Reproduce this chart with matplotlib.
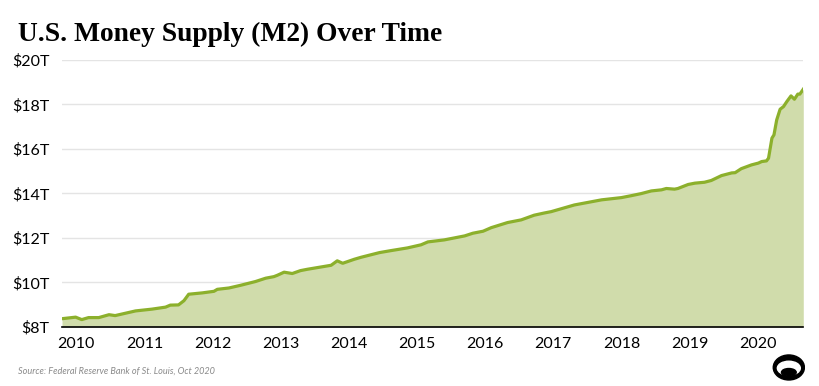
import numpy as np
import matplotlib.pyplot as plt
from matplotlib.patches import Ellipse

# M2 money supply, trillions of USD (decimal years)
years = [2009.79, 2009.99, 2010.08, 2010.18, 2010.33, 2010.48, 2010.57, 2010.87,
         2011.11, 2011.31, 2011.38, 2011.50, 2011.58, 2011.65, 2011.85, 2012.02,
         2012.07, 2012.24, 2012.41, 2012.63, 2012.78, 2012.90, 2012.95, 2013.05,
         2013.17, 2013.29, 2013.39, 2013.74, 2013.83, 2013.91, 2014.08, 2014.18,
         2014.45, 2014.62, 2014.86, 2015.06, 2015.16, 2015.40, 2015.70, 2015.82,
         2015.97, 2016.09, 2016.33, 2016.53, 2016.72, 2016.87, 2016.97, 2017.31,
         2017.71, 2018.00, 2018.15, 2018.29, 2018.44, 2018.59, 2018.66, 2018.78,
         2018.83, 2018.98, 2019.08, 2019.22, 2019.32, 2019.47, 2019.62, 2019.67,
         2019.76, 2019.91, 2020.01, 2020.06, 2020.13, 2020.16, 2020.21, 2020.24,
         2020.28, 2020.33, 2020.38, 2020.43, 2020.49, 2020.54, 2020.59, 2020.62,
         2020.67]
m2 = [8.37, 8.44, 8.33, 8.42, 8.42, 8.55, 8.51, 8.72,
      8.80, 8.89, 8.98, 8.99, 9.18, 9.47, 9.53, 9.60,
      9.69, 9.75, 9.87, 10.04, 10.19, 10.26, 10.32, 10.46,
      10.40, 10.53, 10.59, 10.77, 10.97, 10.86, 11.04, 11.13,
      11.34, 11.43, 11.55, 11.69, 11.82, 11.91, 12.09, 12.21,
      12.30, 12.46, 12.69, 12.81, 13.02, 13.12, 13.18, 13.48,
      13.71, 13.81, 13.90, 13.99, 14.11, 14.16, 14.22, 14.19,
      14.22, 14.40, 14.46, 14.50, 14.58, 14.80, 14.92, 14.93,
      15.11, 15.28, 15.36, 15.43, 15.46, 15.58, 16.48, 16.63,
      17.30, 17.78, 17.90, 18.13, 18.38, 18.23, 18.46, 18.46,
      18.68]

y_ticks = [8, 10, 12, 14, 16, 18, 20]
y_labels = ['$8T', '$10T', '$12T', '$14T', '$16T', '$18T', '$20T']
x_ticks = list(range(2010, 2021))

line_color = '#8cb02c'
fill_color = '#d0dcab'

plt.rcParams['font.family'] = 'Lato'

fig = plt.figure(figsize=(8.2, 3.86), dpi=100)
ax = fig.add_axes([0.0756, 0.153, 0.904, 0.692])

ax.fill_between(years, m2, 8, color=fill_color, linewidth=0, zorder=2)
ax.plot(years, m2, color=line_color, linewidth=2.3, zorder=3, solid_joinstyle='round')

ax.set_xlim(2009.79, 2020.67)
ax.set_ylim(8, 20)
ax.set_yticks(y_ticks)
ax.set_yticklabels(y_labels)
ax.set_xticks(x_ticks)
ax.set_xticklabels([str(y) for y in x_ticks])
ax.tick_params(axis='both', length=0, labelsize=11.5, colors='black')
ax.tick_params(axis='y', pad=9)
ax.tick_params(axis='x', pad=7)

ax.grid(axis='y', color='#e4e4e4', linewidth=1, zorder=1)
for s in ['top', 'right', 'left']:
    ax.spines[s].set_visible(False)
ax.spines['bottom'].set_color('black')
ax.spines['bottom'].set_linewidth(1.2)
ax.spines['bottom'].set_zorder(4)

fig.text(0.022, 0.893, 'U.S. Money Supply (M2) Over Time', family='Liberation Serif',
         fontweight='bold', fontsize=19.8, ha='left', va='baseline')
fig.text(0.022, 0.033, 'Source: Federal Reserve Bank of St. Louis, Oct 2020',
         fontsize=6.6, style='italic', color='#8a8a8a', ha='left', va='baseline')

# small logo, bottom right
lax = fig.add_axes([0.942, 0.012, 0.04, 0.072])
lax.set_xlim(-1, 1)
lax.set_ylim(-1, 1)
lax.axis('off')
lax.add_patch(Ellipse((0, 0), 1.9, 1.8, color='black'))
lax.add_patch(Ellipse((0, -0.05), 1.4, 1.0, color='white'))
lax.add_patch(Ellipse((0, -0.35), 0.9, 0.55, color='black'))

fig.savefig('out.png', dpi=100)
